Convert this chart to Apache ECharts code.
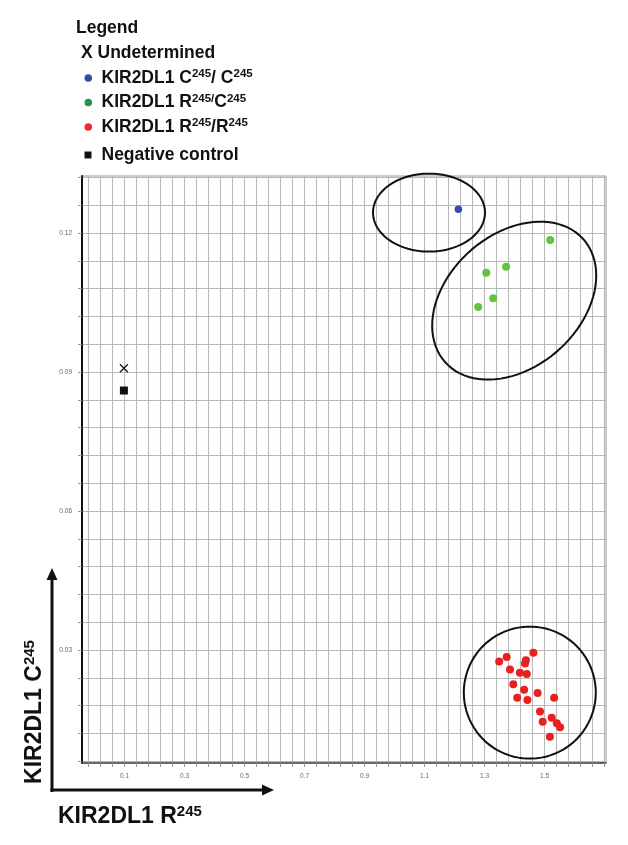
<!DOCTYPE html>
<html><head><meta charset="utf-8">
<script src="https://cdn.jsdelivr.net/npm/echarts@6/dist/echarts.min.js"></script>
<style>html,body{margin:0;padding:0;background:#fff}#c{width:628px;height:845px}</style>
</head><body><div id="c"></div>
<script>
// ---------- data ----------
const seriesNames = ['Undetermined', 'KIR2DL1 C245/ C245', 'KIR2DL1 R245/C245', 'KIR2DL1 R245/R245', 'Negative control'];
const undetermined = [[0.098, 0.0908]];
const ccPoints = [[1.213, 0.1251]];
const rcPoints = [[1.519, 0.1185], [1.372, 0.1127], [1.306, 0.1114], [1.329, 0.1059], [1.279, 0.1040]];
const rrPoints = [
  [1.349, 0.0275], [1.374, 0.0285], [1.463, 0.0294], [1.438, 0.0278], [1.435, 0.0271],
  [1.385, 0.0258], [1.418, 0.0251], [1.441, 0.0248], [1.396, 0.0226], [1.432, 0.0214],
  [1.477, 0.0207], [1.409, 0.0197], [1.443, 0.0192], [1.532, 0.0197], [1.485, 0.0167],
  [1.524, 0.0154], [1.494, 0.0145], [1.541, 0.0142], [1.552, 0.0133], [1.518, 0.0113]
];
const negativeControl = [[0.098, 0.0860]];
const xTickLabels = [0.1, 0.3, 0.5, 0.7, 0.9, 1.1, 1.3, 1.5];
const yTickLabels = [0.03, 0.06, 0.09, 0.12];
// cluster rings: centre (data units), then semi-axes in px and tilt in degrees
const ringCentres = [[1.115, 0.1244], [1.399, 0.1054], [1.451, 0.0208]];
const ringShape = [[56, 39, 0], [92.5, 66.4, 41.6], [66, 66, 0]];

// grid line positions
const xGridValues = [];
for (let k = 0; k <= 43; k++) xGridValues.push(+(-0.02 + 0.04 * k).toFixed(3));
const yGridValues = [];
for (let k = 1; k <= 22; k++) yGridValues.push(+(0.006 * k).toFixed(3));

const FF = '"Liberation Sans", Arial, sans-serif';
const chart = echarts.init(document.getElementById('c'), null, {renderer: 'canvas'});

const ringData = ringCentres.map((c, i) => [c[0], c[1], ringShape[i][0], ringShape[i][1], ringShape[i][2]]);

const richStyles = {
  b: {fontSize: 17.5, fontWeight: 'bold', fontFamily: FF, fill: '#111', lineHeight: 20},
  s: {fontSize: 11.5, fontWeight: 'bold', fontFamily: FF, fill: '#111', lineHeight: 12, verticalAlign: 'top'}
};
const axRich = {
  b: {fontSize: 23, fontWeight: 'bold', fontFamily: FF, fill: '#111', lineHeight: 26},
  s: {fontSize: 15, fontWeight: 'bold', fontFamily: FF, fill: '#111', lineHeight: 16, verticalAlign: 'top'}
};

const option = {
  backgroundColor: '#fff',
  animation: false,
  grid: {left: 82, top: 176, width: 524, height: 587, show: true, borderColor: '#9a9a9a', borderWidth: 1},
  xAxis: {
    type: 'value', min: -0.0417, max: 1.705,
    axisLine: {show: true, onZero: false, lineStyle: {color: '#444', width: 1.5}},
    axisTick: {show: true, length: 4, customValues: xGridValues, lineStyle: {color: '#999'}},
    splitLine: {show: true, lineStyle: {color: '#b9b9b9', width: 1.1}},
    axisLabel: {customValues: xTickLabels, formatter: v => v.toFixed(1), fontSize: 6.5, color: '#666', margin: 10, fontFamily: FF}
  },
  yAxis: {
    type: 'value', min: 0.00561, max: 0.1323,
    axisLine: {show: true, onZero: false, lineStyle: {color: '#111', width: 2}},
    axisTick: {show: true, length: 4, customValues: yGridValues, lineStyle: {color: '#999'}},
    splitLine: {show: true, lineStyle: {color: '#b9b9b9', width: 1.1}},
    axisLabel: {customValues: yTickLabels, formatter: v => v.toFixed(2), fontSize: 6.5, color: '#666', margin: 10, fontFamily: FF}
  },
  series: [
    {
      type: 'custom', name: 'rings', silent: true, z: 3,
      data: ringData,
      renderItem: function (params, api) {
        const c = api.coord([api.value(0), api.value(1)]);
        const a = api.value(2), b = api.value(3), phi = api.value(4) * Math.PI / 180;
        const pts = [];
        for (let t = 0; t < 360; t += 4) {
          const r = t * Math.PI / 180;
          const ex = a * Math.cos(r), ey = b * Math.sin(r);
          pts.push([c[0] + ex * Math.cos(phi) + ey * Math.sin(phi), c[1] - ex * Math.sin(phi) + ey * Math.cos(phi)]);
        }
        return {type: 'polygon', shape: {points: pts}, style: {fill: 'none', stroke: '#111', lineWidth: 2}};
      }
    },
    {type: 'scatter', name: seriesNames[0], data: undetermined, z: 5,
      symbol: 'path://M0,0L10,10M10,0L0,10', symbolSize: 8,
      itemStyle: {color: 'none', borderColor: '#111', borderWidth: 1.2, opacity: 1}},
    {type: 'scatter', name: seriesNames[1], data: ccPoints, z: 5, symbolSize: 7.5, itemStyle: {color: '#2f4ea8', opacity: 1}},
    {type: 'scatter', name: seriesNames[2], data: rcPoints, z: 5, symbolSize: 8, itemStyle: {color: '#62c43c', opacity: 1}},
    {type: 'scatter', name: seriesNames[3], data: rrPoints, z: 5, symbolSize: 8, itemStyle: {color: '#e8201e', opacity: 1}},
    {type: 'scatter', name: seriesNames[4], data: negativeControl, z: 5, symbol: 'rect', symbolSize: 8, itemStyle: {color: '#111', opacity: 1}}
  ],
  graphic: [
    {type: 'text', x: 76, y: 28, style: {text: 'Legend', fontSize: 17.5, fontWeight: 'bold', fontFamily: FF, fill: '#111', verticalAlign: 'middle'}},
    {type: 'text', x: 81, y: 53, style: {text: 'X Undetermined', fontSize: 17.5, fontWeight: 'bold', fontFamily: FF, fill: '#111', verticalAlign: 'middle'}},
    {type: 'circle', shape: {cx: 88.3, cy: 78, r: 3.8}, style: {fill: '#2f4ea8'}},
    {type: 'text', x: 101.5, y: 78, style: {text: '{b|KIR2DL1 C}{s|245}{b|/ C}{s|245}', rich: richStyles, verticalAlign: 'middle'}},
    {type: 'circle', shape: {cx: 88.3, cy: 102.5, r: 3.8}, style: {fill: '#1e9a44'}},
    {type: 'text', x: 101.5, y: 102.5, style: {text: '{b|KIR2DL1 R}{s|245/}{b|C}{s|245}', rich: richStyles, verticalAlign: 'middle'}},
    {type: 'circle', shape: {cx: 88.3, cy: 127, r: 3.8}, style: {fill: '#ee2a2e'}},
    {type: 'text', x: 101.5, y: 127, style: {text: '{b|KIR2DL1 R}{s|245}{b|/R}{s|245}', rich: richStyles, verticalAlign: 'middle'}},
    {type: 'rect', shape: {x: 84.5, y: 151.5, width: 7, height: 7}, style: {fill: '#111'}},
    {type: 'text', x: 101.5, y: 155, style: {text: 'Negative control', fontSize: 17.5, fontWeight: 'bold', fontFamily: FF, fill: '#111', verticalAlign: 'middle'}},
    // axis arrows
    {type: 'line', shape: {x1: 52, y1: 792, x2: 52, y2: 578}, style: {stroke: '#111', lineWidth: 3}},
    {type: 'polygon', shape: {points: [[52, 568], [46.5, 580], [57.5, 580]]}, style: {fill: '#111'}},
    {type: 'line', shape: {x1: 50.5, y1: 790, x2: 263, y2: 790}, style: {stroke: '#111', lineWidth: 3}},
    {type: 'polygon', shape: {points: [[274, 790], [262, 784.5], [262, 795.5]]}, style: {fill: '#111'}},
    {type: 'text', x: 58, y: 817, style: {text: '{b|KIR2DL1 R}{s|245}', rich: axRich, verticalAlign: 'middle'}},
    {type: 'text', x: 35, y: 712, rotation: Math.PI / 2, style: {text: '{b|KIR2DL1 C}{s|245}', rich: axRich, align: 'center', verticalAlign: 'middle'}}
  ]
};
chart.setOption(option);
</script>
</body></html>
